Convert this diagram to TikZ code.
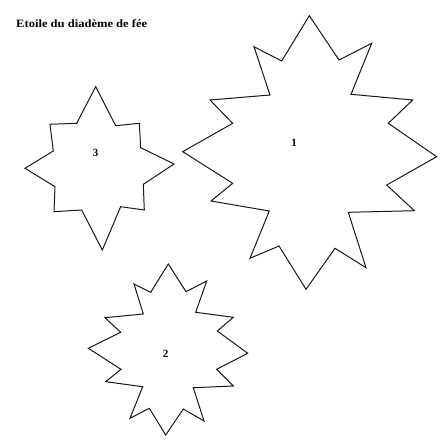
\documentclass[tikz,border=0pt]{standalone}
\usepackage{fontspec}
\setmainfont{Liberation Serif}
\begin{document}
\begin{tikzpicture}[x=1pt,y=-1pt,
  starline/.style={draw=black!90,line width=1pt,line join=miter},
  numlabel/.style={font=\fontsize{11}{13}\selectfont\bfseries,inner sep=0pt},
  titlelabel/.style={font=\fontsize{11.2}{13}\selectfont\bfseries,inner sep=0pt,anchor=west}]
\useasboundingbox (0,0) rectangle (445,441);
% title
\node[titlelabel,xscale=1.12] (title) at (16,24) {Etoile du diadème de fée};
% star 1
\draw[starline] (309.3,15.7) -- (339,60) -- (371.7,43.3) -- (351,94.3) -- (412.7,100)
  -- (388.3,123.3) -- (436.7,156.7) -- (386.7,185) -- (414.3,210.7) -- (348.3,212.3)
  -- (366,267.7) -- (335,248.3) -- (306,289.3) -- (279,246) -- (250,258.3)
  -- (269.3,211) -- (211,201) -- (232.7,183.3) -- (182.7,151.7) -- (232.7,123.3)
  -- (210,100) -- (270,95) -- (254,46.7) -- (281.7,61) -- cycle;
\node[numlabel] (n1) at (294,143.3) {1};
% star 3
\draw[starline] (95.7,86.7) -- (115.7,125.7) -- (139.3,123.3) -- (140.7,147.7) -- (174,164)
  -- (143.3,184.3) -- (144.3,210) -- (120.7,206.7) -- (102.3,250) -- (81.7,210)
  -- (54,211.7) -- (55,186.7) -- (25,168.3) -- (53.3,151) -- (50,124.3)
  -- (76.7,123.3) -- cycle;
\node[numlabel] (n3) at (95.7,153.3) {3};
% star 2
\draw[starline] (168.3,264) -- (186,291.7) -- (206.7,281) -- (195.7,312.3) -- (233.3,317.3)
  -- (217.3,331) -- (247.7,353.3) -- (216.7,369.3) -- (233.3,386) -- (193.3,387.7)
  -- (204,421) -- (183.3,409) -- (165.7,435) -- (149.3,408.3) -- (130,418.3)
  -- (142.7,386.7) -- (105.7,381.7) -- (121,369.3) -- (88.3,348.3) -- (120.7,332.3)
  -- (105,317.7) -- (143.3,314) -- (134,284) -- (150.7,292.3) -- cycle;
\node[numlabel] (n2) at (165.7,354) {2};
\end{tikzpicture}
\end{document}
